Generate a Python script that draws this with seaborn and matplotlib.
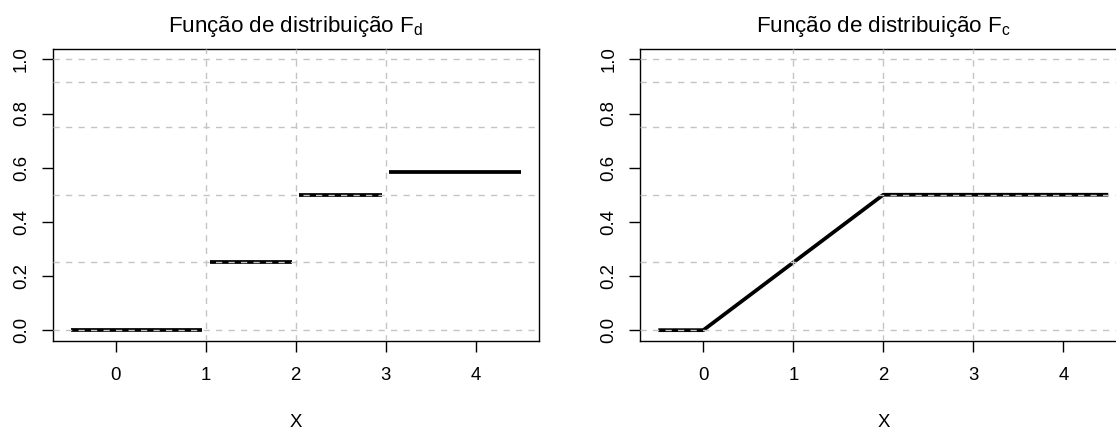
import numpy as np
import pandas as pd
import matplotlib
matplotlib.use("Agg")
import matplotlib.pyplot as plt
import seaborn as sns

# ---- data ----
seg_start = [-0.5, 1.05, 2.04, 3.04]
seg_end = [0.96, 1.96, 2.96, 4.5]
fd_values = [0.0, 0.25, 0.5, 7 / 12]

fc_x = [-0.5, 0.0, 2.0, 4.5]
fc_y = [0.0, 0.0, 0.5, 0.5]

grid_y = [0.0, 0.25, 0.5, 0.75, 11 / 12, 1.0]
grid_x = [1, 2, 3]

x_ticks = [0, 1, 2, 3, 4]
y_ticks = [0.0, 0.2, 0.4, 0.6, 0.8, 1.0]
y_ticklabels = ["0.0", "0.2", "0.4", "0.6", "0.8", "1.0"]

titles = ["Função de distribuição F$_d$", "Função de distribuição F$_c$"]
xlabel = "X"

# ---- style ----
sns.set_style("white")
plt.rcParams["font.family"] = ["Liberation Sans", "DejaVu Sans"]
plt.rcParams["mathtext.fontset"] = "custom"
plt.rcParams["mathtext.rm"] = "Liberation Sans"
plt.rcParams["mathtext.it"] = "Liberation Sans"
plt.rcParams["mathtext.default"] = "regular"
plt.rcParams["text.color"] = "black"
plt.rcParams["axes.labelcolor"] = "black"
plt.rcParams["axes.titlecolor"] = "black"

W, H = 1116, 429
fig = plt.figure(figsize=(W / 100, H / 100), dpi=100)

ax_w = 486 / W
ax_h = (341 - 48.5) / H
ax_b = (H - 341) / H
ax1 = fig.add_axes([52.7 / W, ax_b, ax_w, ax_h])
ax2 = fig.add_axes([640.3 / W, ax_b, ax_w, ax_h])

# step function data frame
rows = []
for i, (a, b, v) in enumerate(zip(seg_start, seg_end, fd_values)):
    rows.append({"seg": i, "x": a, "y": v})
    rows.append({"seg": i, "x": b, "y": v})
df_d = pd.DataFrame(rows)
df_c = pd.DataFrame({"x": fc_x, "y": fc_y, "seg": 0})

LW = 2.7
sns.lineplot(data=df_d, x="x", y="y", units="seg", estimator=None, color="black",
             lw=LW, ax=ax1, sort=False, zorder=2, solid_capstyle="butt")
sns.lineplot(data=df_c, x="x", y="y", units="seg", estimator=None, color="black",
             lw=LW, ax=ax2, sort=False, zorder=2, solid_capstyle="butt")

for ax, title in zip([ax1, ax2], titles):
    ax.set_xlim(-0.7, 4.7)
    ax.set_ylim(-0.04, 1.04)
    for gy in grid_y:
        ax.axhline(gy, color="#c4c4c4", lw=1.0, ls=(0, (4.5, 4.5)), zorder=3)
    for gx in grid_x:
        ax.axvline(gx, color="#c4c4c4", lw=1.0, ls=(0, (4.5, 4.5)), zorder=3)
    for s in ax.spines.values():
        s.set_color("black")
        s.set_linewidth(1.0)
        s.set_visible(True)
    ax.set_xticks(x_ticks)
    ax.set_xticklabels([str(t) for t in x_ticks], fontsize=13.4)
    ax.set_yticks(y_ticks)
    ax.set_yticklabels(y_ticklabels, fontsize=13.4, rotation=90, va="center")
    ax.tick_params(axis="both", direction="out", length=7.9, width=1.0,
                   color="black", labelcolor="black", left=True, bottom=True)
    ax.tick_params(axis="x", pad=10.5)
    ax.tick_params(axis="y", pad=8.4)
    ax.set_xlabel(xlabel, fontsize=13.4, color="black")
    ax.xaxis.set_label_coords(0.5, -0.25)
    ax.set_ylabel("")
    ax.set_title(title, fontsize=16.1, y=1.0574, pad=0, va="baseline", color="black")

fig.savefig("out.png", dpi=100)
